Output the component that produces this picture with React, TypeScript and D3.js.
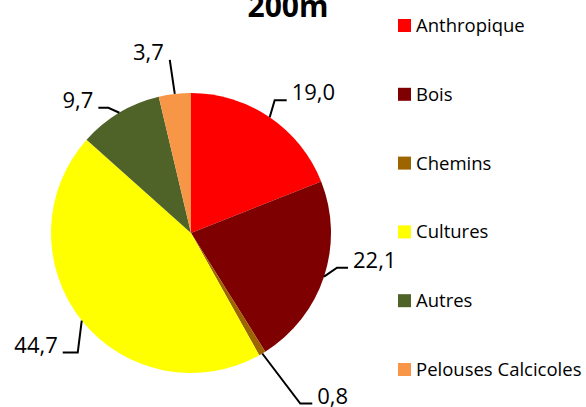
import React from "react";
import * as d3 from "d3";

const categories = ["Anthropique", "Bois", "Chemins", "Cultures", "Autres", "Pelouses Calcicoles"];
const values = [19.0, 22.1, 0.8, 44.7, 9.7, 3.7];
const colors = ["#FF0000", "#7F0000", "#9C6500", "#FFFF00", "#4F6228", "#F79646"];
const title = "200m";

// leader-line layout: elbow offset from slice edge, then horizontal run
const leaderLayout = [
  { dx: 5, dy: -17, h: 12 },
  { dx: 13, dy: -9, h: 11 },
  { dx: 38, dy: 50, h: 12 },
  { dx: -4, dy: 32, h: -15 },
  { dx: -11, dy: -5, h: -10 },
  { dx: -5, dy: -34, h: 0 },
];

const W = 586, H = 407;
const cx = 191, cy = 233, R = 140;

export default function App() {
  const pie = d3.pie<number>().sort(null).value((d) => d);
  const arcs = pie(values);
  const arc = d3.arc<d3.PieArcDatum<number>>().innerRadius(0).outerRadius(R);
  const fmt = (v: number) => v.toFixed(1).replace(".", ",");
  const legendY = d3.scaleLinear().domain([0, categories.length - 1]).range([19, 363]);

  return (
    <svg width={W} height={H} style={{ position: "fixed", left: 0, top: 0, background: "#fff" }}>
      <text x={288} y={17} textAnchor="middle" fontFamily="'Open Sans', sans-serif" fontWeight="bold" fontSize={30}>{title}</text>
      <g transform={`translate(${cx},${cy})`}>
        {arcs.map((a, i) => (
          <path key={i} d={arc(a) || ""} fill={colors[i]} />
        ))}
        {arcs.map((a, i) => {
          const m = (a.startAngle + a.endAngle) / 2;
          const ex = R * Math.sin(m), ey = -R * Math.cos(m);
          const L = leaderLayout[i];
          const bx = ex + L.dx, by = ey + L.dy;
          const hx = bx + L.h;
          const right = L.h > 0 || (L.h === 0 && L.dx > 0);
          const tx = L.h === 0 ? bx - 6 : hx + (right ? 5 : -5);
          return (
            <g key={"l" + i}>
              <polyline points={`${ex},${ey} ${bx},${by} ${hx},${by}`} fill="none" stroke="#000" strokeWidth={2} />
              <text x={tx} y={by} textAnchor={right ? "start" : "end"} fontFamily="'Open Sans', sans-serif" fontSize={22} fill="#000">{fmt(values[i])}</text>
            </g>
          );
        })}
      </g>
      <g>
        {categories.map((c, i) => (
          <g key={c} transform={`translate(398,${legendY(i)})`}>
            <rect width={13} height={13} fill={colors[i]} />
            <text x={18} y={13} fontFamily="'Open Sans', sans-serif" fontSize={18.5} fill="#000">{c}</text>
          </g>
        ))}
      </g>
    </svg>
  );
}
